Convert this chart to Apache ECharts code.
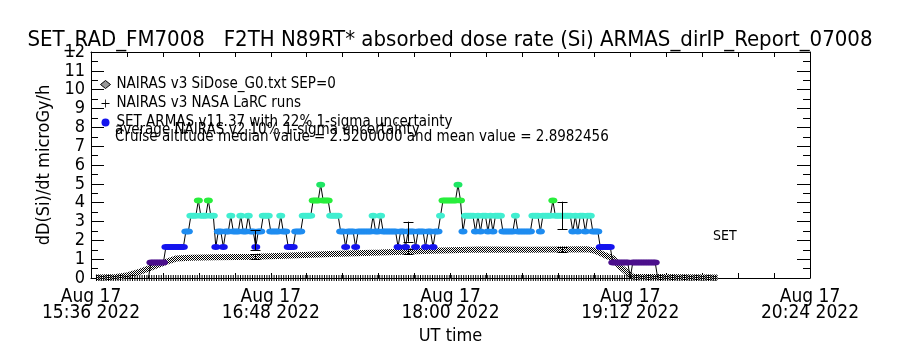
<!DOCTYPE html>
<html><head><meta charset="utf-8">
<script src="https://cdn.jsdelivr.net/npm/echarts@6/dist/echarts.min.js"></script>
<style>html,body{margin:0;padding:0;background:#fff}#c{width:900px;height:350px}</style>
</head><body><div id="c"></div>
<script>
// ---------- texts ----------
const titleText = 'SET_RAD_FM7008   F2TH N89RT* absorbed dose rate (Si) ARMAS_dirIP_Report_07008';
const yAxisName = 'dD(Si)/dt microGy/h';
const xAxisName = 'UT time';
const xTickLabels = ['Aug 17\n15:36 2022', 'Aug 17\n16:48 2022', 'Aug 17\n18:00 2022', 'Aug 17\n19:12 2022', 'Aug 17\n20:24 2022'];
const seriesNames = ['NAIRAS v3 SiDose_G0.txt SEP=0', 'NAIRAS v3 NASA LaRC runs', 'SET ARMAS v11.37 with 22% 1-sigma uncertainty'];
const noteLines = ['average NAIRAS v2 10% 1-sigma uncertainty', 'Cruise altitude median value = 2.5200000 and mean value = 2.8982456'];
const cornerLabel = 'SET';

// ---------- data (x in minutes after Aug 17 15:36 UT) ----------
const setStartMinute = 23;   // first SET ARMAS sample, 1-minute cadence
const setValues = [
  0, 0.82, 0.82, 0.82, 0.82, 0.82, 0.82, 1.65, 1.65, 1.65,
  1.65, 1.65, 1.65, 1.65, 1.65, 2.47, 2.47, 3.3, 3.3, 3.3,
  4.12, 3.3, 3.3, 3.3, 4.12, 3.3, 3.3, 1.65, 2.47, 2.47,
  1.65, 2.47, 2.47, 3.3, 2.47, 2.47, 2.47, 3.3, 2.47, 2.47,
  3.3, 2.47, 2.47, 1.65, 2.47, 2.47, 3.3, 3.3, 3.3, 2.47,
  2.47, 2.47, 2.47, 3.3, 2.47, 2.47, 1.65, 1.65, 1.65, 2.47,
  2.47, 2.47, 3.3, 3.3, 3.3, 3.3, 4.12, 4.12, 4.12, 4.95,
  4.12, 4.12, 4.12, 3.3, 3.3, 3.3, 3.3, 2.47, 2.47, 1.65,
  2.47, 2.47, 2.47, 1.65, 2.47, 2.47, 2.47, 2.47, 2.47, 2.47,
  3.3, 2.47, 2.47, 3.3, 2.47, 2.47, 2.47, 2.47, 2.47, 2.47,
  1.65, 2.47, 2.47, 1.65, 2.47, 2.47, 2.47, 1.65, 2.47, 2.47,
  2.47, 1.65, 2.47, 2.47, 1.65, 2.47, 2.47, 3.3, 4.12, 4.12,
  4.12, 4.12, 4.12, 4.12, 4.95, 4.12, 2.47, 3.3, 3.3, 3.3,
  3.3, 2.47, 3.3, 2.47, 3.3, 3.3, 2.47, 3.3, 2.47, 3.3,
  3.3, 3.3, 2.47, 2.47, 2.47, 2.47, 2.47, 3.3, 2.47, 2.47,
  2.47, 2.47, 2.47, 2.47, 3.3, 3.3, 3.3, 2.47, 3.3, 3.3,
  3.3, 3.3, 4.12, 3.3, 3.3, 3.3, 3.3, 3.3, 3.3, 3.3,
  2.47, 3.3, 2.47, 3.3, 3.3, 2.47, 3.3, 3.3, 2.47, 2.47,
  2.47, 1.65, 1.65, 1.65, 1.65, 1.65, 0.82, 0.82, 0.82, 0.82,
  0.82, 0.82, 0.82, 0, 0.82, 0.82, 0.82, 0.82, 0.82, 0.82,
  0.82, 0.82, 0.82, 0.82, 0
];
const nairasTimes  = [2, 10, 15, 20, 25, 30, 34, 40, 50, 66, 80, 96, 116, 136, 156, 176, 199, 202, 206, 209, 212, 215, 217, 251];
const nairasValues = [0.02, 0.05, 0.15, 0.35, 0.6, 0.85, 1.03, 1.07, 1.1, 1.13, 1.2, 1.28, 1.36, 1.45, 1.51, 1.5, 1.52, 1.45, 1.2, 1.05, 0.6, 0.25, 0.07, 0.02];
const larcTimes  = [2, 251];
const larcValues = [0, 0];
const setErrTimes = [65.7, 127, 188.7];
const setErrLow   = [1.49, 1.93, 2.59];
const setErrHigh  = [2.55, 2.99, 4.05];
const nairasErrTimes = [65.7, 127, 188.7];
const nairasErrLow   = [1.02, 1.27, 1.36];
const nairasErrHigh  = [1.26, 1.55, 1.66];

// ---------- styles ----------
const FONT = "'DejaVu Sans Condensed', 'DejaVu Sans', sans-serif";
const levelColors = { '0.82': '#4c108c', '1.65': '#1414ee', '2.47': '#1e8cf0', '3.3': '#40eed0', '4.12': '#28ee3c', '4.95': '#1ee664' };
function colorFor(v) { return levelColors[String(v)] || '#000'; }

const pc = document.createElement('canvas'); pc.width = 2; pc.height = 2;
const g = pc.getContext('2d');
g.fillStyle = '#fff'; g.fillRect(0, 0, 2, 2);
g.fillStyle = '#000'; g.fillRect(0, 0, 1, 1); g.fillRect(1, 1, 1, 1);
const checker = { image: pc, repeat: 'repeat' };

function errRender(w) {
  return function (params, api) {
    const lo = api.coord([api.value(0), api.value(1)]);
    const hi = api.coord([api.value(0), api.value(2)]);
    const x = Math.round(lo[0]) + 0.5;
    const st = { stroke: '#000', lineWidth: 1 };
    return { type: 'group', children: [
      { type: 'line', shape: { x1: x, y1: lo[1], x2: x, y2: hi[1] }, style: st },
      { type: 'line', shape: { x1: x - w, y1: Math.round(lo[1]) + 0.5, x2: x + w, y2: Math.round(lo[1]) + 0.5 }, style: st },
      { type: 'line', shape: { x1: x - w, y1: Math.round(hi[1]) + 0.5, x2: x + w, y2: Math.round(hi[1]) + 0.5 }, style: st }
    ]};
  };
}

const chart = echarts.init(document.getElementById('c'), null, { renderer: 'canvas' });
const axisBase = {
  axisLine: { show: true, onZero: false, lineStyle: { color: '#000', width: 1 } },
  splitLine: { show: false }
};
chart.setOption({
  animation: false,
  backgroundColor: '#fff',
  textStyle: { fontFamily: FONT },
  title: { text: titleText, left: 'center', top: 24, textStyle: { fontFamily: FONT, fontSize: 22, fontWeight: 'normal', color: '#000' } },
  grid: { left: 91, right: 90, top: 52, bottom: 72, containLabel: false, outerBoundsMode: 'none' },
  legend: {
    orient: 'vertical', left: 95, top: 72, itemWidth: 10, itemHeight: 8, itemGap: 4,
    textStyle: { fontFamily: FONT, fontSize: 15, color: '#000', lineHeight: 15, padding: [0, 0, 0, 1] },
    selectedMode: false,
    data: [
      { name: seriesNames[0], icon: 'diamond', itemStyle: { color: '#999', borderColor: '#000', borderWidth: 1 } },
      { name: seriesNames[1], icon: 'path://M0,4.5h10v1h-10zM4.5,0h1v10h-1z', itemStyle: { color: '#000' } },
      { name: seriesNames[2], icon: 'circle', itemStyle: { color: levelColors['1.65'] } }
    ]
  },
  xAxis: [
    Object.assign({}, axisBase, {
      type: 'value', min: 0, max: 288, interval: 72, position: 'bottom',
      axisTick: { show: true, inside: true, length: 5, lineStyle: { color: '#000' } },
      minorTick: { show: true, splitNumber: 5, length: 5, lineStyle: { color: '#000' } },
      axisLabel: { formatter: v => xTickLabels[Math.round(v / 72)], color: '#000', fontFamily: FONT, fontSize: 19, lineHeight: 16, margin: 11 },
      name: xAxisName, nameLocation: 'middle', nameGap: 45,
      nameTextStyle: { fontFamily: FONT, fontSize: 18, color: '#000' }
    }),
    Object.assign({}, axisBase, {
      type: 'value', min: 0, max: 288, interval: 72, position: 'top',
      axisTick: { show: true, inside: true, length: 5, lineStyle: { color: '#000' } },
      minorTick: { show: true, splitNumber: 5, length: 5, lineStyle: { color: '#000' } },
      axisLabel: { show: false }
    })
  ],
  yAxis: [
    Object.assign({}, axisBase, {
      type: 'value', min: 0, max: 12, interval: 1, position: 'left',
      axisTick: { show: true, inside: true, length: 13, lineStyle: { color: '#000' } },
      minorTick: { show: true, splitNumber: 2, length: 7, lineStyle: { color: '#000' } },
      axisLabel: { color: '#000', fontFamily: FONT, fontSize: 18, margin: 6 },
      name: yAxisName, nameLocation: 'middle', nameGap: 35, nameRotate: 90,
      nameTextStyle: { fontFamily: FONT, fontSize: 18, color: '#000' }
    }),
    Object.assign({}, axisBase, {
      type: 'value', min: 0, max: 12, interval: 1, position: 'right',
      axisTick: { show: true, inside: true, length: 13, lineStyle: { color: '#000' } },
      minorTick: { show: true, splitNumber: 2, length: 7, lineStyle: { color: '#000' } },
      axisLabel: { show: false }
    })
  ],
  series: [
    {
      name: seriesNames[0], type: 'line', xAxisIndex: 0, yAxisIndex: 0, z: 2,
      data: nairasTimes.map((t, i) => [t, nairasValues[i]]),
      showSymbol: false, symbol: 'none',
      lineStyle: { color: checker, width: 6 }
    },
    {
      name: seriesNames[1], type: 'line', z: 3, clip: true,
      data: larcTimes.map((t, i) => [t, larcValues[i]]),
      showSymbol: false, symbol: 'none',
      lineStyle: { color: '#000', width: 6, type: [1, 1.4] }
    },
    {
      name: 'nairasErr', type: 'custom', z: 4,
      data: nairasErrTimes.map((t, i) => [t, nairasErrLow[i], nairasErrHigh[i]]),
      encode: { x: 0, y: [1, 2] }, renderItem: errRender(5)
    },
    {
      name: seriesNames[2], type: 'line', z: 5, showAllSymbol: true, symbol: 'circle',
      symbolSize: v => (v[1] > 0 ? [9, 6] : 0),
      data: setValues.map((v, i) => ({ value: [setStartMinute + i, v], itemStyle: { color: colorFor(v), borderWidth: 0 } })),
      lineStyle: { color: '#000', width: 1 },
      itemStyle: { color: levelColors['1.65'] }
    },
    {
      name: 'setErr', type: 'custom', z: 6,
      data: setErrTimes.map((t, i) => [t, setErrLow[i], setErrHigh[i]]),
      encode: { x: 0, y: [1, 2] }, renderItem: errRender(5)
    }
  ],
  graphic: [
    { type: 'text', left: 115, top: 123, style: { text: noteLines[0], font: '15px ' + FONT, fill: '#000' } },
    { type: 'text', left: 115, top: 130, style: { text: noteLines[1], font: '15px ' + FONT, fill: '#000' } },
    { type: 'text', left: 713, top: 229, style: { text: cornerLabel, font: '14px ' + FONT, fill: '#000' } }
  ]
});
</script></body></html>
